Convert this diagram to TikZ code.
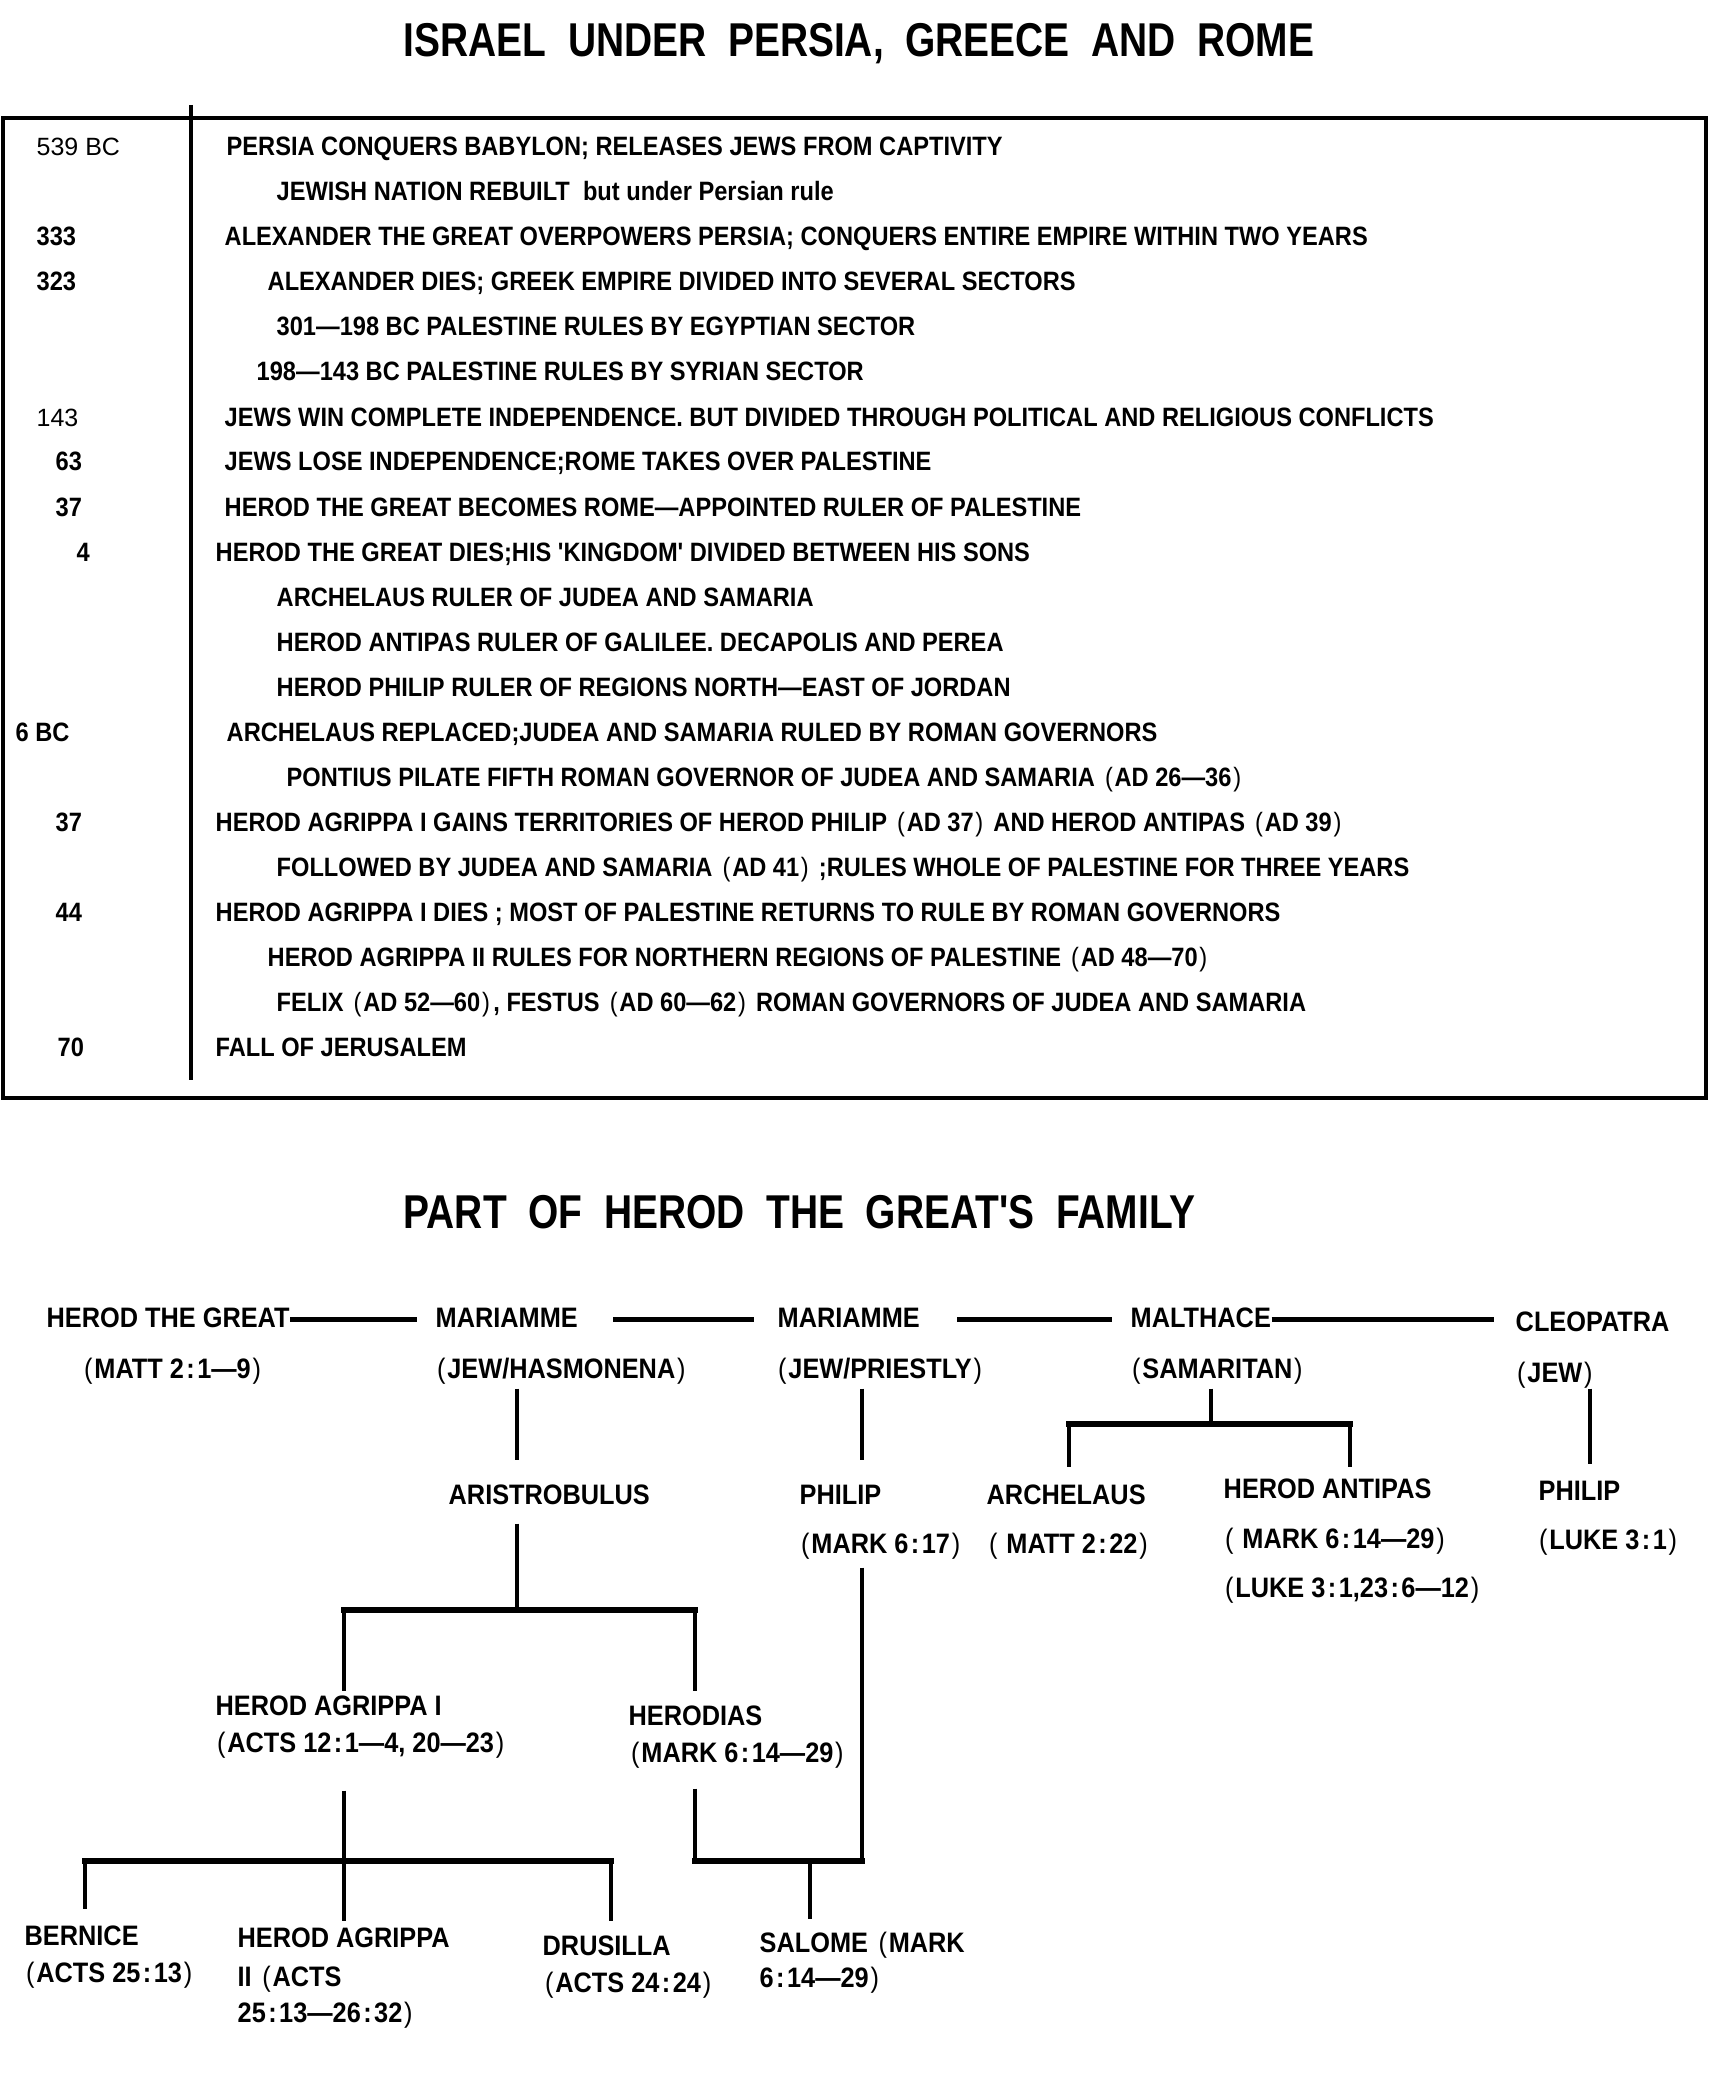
\documentclass[tikz,border=0pt]{standalone}
\usepackage{fontspec}
\usetikzlibrary{calc}
\newfontfamily\narrowfont{Liberation Sans}[FakeStretch=0.89]
\newfontfamily\treefont{Liberation Sans}[FakeStretch=0.90]
\newfontfamily\titlefont{Liberation Sans}[FakeStretch=0.82]
\newfontfamily\datefont{Liberation Sans}
\newcommand{\lp}{\kern1pt{\mdseries(}\kern0.5pt}
\newcommand{\rp}{\kern0.5pt{\mdseries)}\kern1pt}
\newcommand{\cl}{\kern0.7pt:\kern0.7pt}

\begin{document}
\begin{tikzpicture}[x=0.01cm, y=-0.01cm,
	heading/.style={anchor=base west, inner sep=0pt, font=\titlefont\bfseries\fontsize{13.5pt}{16pt}\selectfont},
	event/.style={anchor=base west, inner sep=0pt, font=\narrowfont\bfseries\fontsize{7.55pt}{9pt}\selectfont},
	oldyear/.style={anchor=base west, inner sep=0pt, font=\datefont\fontsize{7.1pt}{9pt}\selectfont},
	person/.style={anchor=base west, inner sep=0pt, text height=2.1mm, text depth=0.6mm, font=\treefont\bfseries\fontsize{8pt}{10pt}\selectfont},
	wed/.style={line width=1.3pt},
	kin/.style={line width=1pt},
	bar/.style={line width=1.5pt, line cap=rect}]
			%%%%% START %%%%%
			\useasboundingbox (0,0) rectangle (1711,2076);
			
			\node[heading] (title) at (403,57) {ISRAEL~ UNDER~ PERSIA,~ GREECE~ AND~ ROME};
			
			\draw[line width=1.1pt] (3,118) rectangle (1706,1098);
			\draw[line width=1.1pt] (191,105) -- (191,1080);
			
			\node[oldyear] (d1) at (36,156) {539 BC};
			\node[event] (d3) at (36,246) {333};
			\node[event] (d4) at (36,291) {323};
			\node[oldyear] (d7) at (36,426) {143};
			\node[event] (d8) at (55,471) {63};
			\node[event] (d9) at (55,516) {37};
			\node[event] (d10) at (76,561) {4};
			\node[event] (d14) at (15,741) {6 BC};
			\node[event] (d16) at (55,831) {37};
			\node[event] (d18) at (55,921) {44};
			\node[event] (d21) at (57,1056) {70};
			
			\node[event] (e1) at (226,156) {PERSIA CONQUERS BABYLON; RELEASES JEWS FROM CAPTIVITY};
			\node[event] (e2) at (276,201) {JEWISH NATION REBUILT~ but under Persian rule};
			\node[event] (e3) at (224,246) {ALEXANDER THE GREAT OVERPOWERS PERSIA; CONQUERS ENTIRE EMPIRE WITHIN TWO YEARS};
			\node[event] (e4) at (267,291) {ALEXANDER DIES; GREEK EMPIRE DIVIDED INTO SEVERAL SECTORS};
			\node[event] (e5) at (276,336) {301—198 BC PALESTINE RULES BY EGYPTIAN SECTOR};
			\node[event] (e6) at (256,381) {198—143 BC PALESTINE RULES BY SYRIAN SECTOR};
			\node[event] (e7) at (224,426) {JEWS WIN COMPLETE INDEPENDENCE. BUT DIVIDED THROUGH POLITICAL AND RELIGIOUS CONFLICTS};
			\node[event] (e8) at (224,471) {JEWS LOSE INDEPENDENCE;ROME TAKES OVER PALESTINE};
			\node[event] (e9) at (224,516) {HEROD THE GREAT BECOMES ROME—APPOINTED RULER OF PALESTINE};
			\node[event] (e10) at (215,561) {HEROD THE GREAT DIES;HIS 'KINGDOM' DIVIDED BETWEEN HIS SONS};
			\node[event] (e11) at (276,606) {ARCHELAUS RULER OF JUDEA AND SAMARIA};
			\node[event] (e12) at (276,651) {HEROD ANTIPAS RULER OF GALILEE. DECAPOLIS AND PEREA};
			\node[event] (e13) at (276,696) {HEROD PHILIP RULER OF REGIONS NORTH—EAST OF JORDAN};
			\node[event] (e14) at (226,741) {ARCHELAUS REPLACED;JUDEA AND SAMARIA RULED BY ROMAN GOVERNORS};
			\node[event] (e15) at (286,786) {PONTIUS PILATE FIFTH ROMAN GOVERNOR OF JUDEA AND SAMARIA \lp AD 26—36\rp};
			\node[event] (e16) at (215,831) {HEROD AGRIPPA I GAINS TERRITORIES OF HEROD PHILIP \lp AD 37\rp\ AND HEROD ANTIPAS \lp AD 39\rp};
			\node[event] (e17) at (276,876) {FOLLOWED BY JUDEA AND SAMARIA \lp AD 41\rp\ ;RULES WHOLE OF PALESTINE FOR THREE YEARS};
			\node[event] (e18) at (215,921) {HEROD AGRIPPA I DIES ; MOST OF PALESTINE RETURNS TO RULE BY ROMAN GOVERNORS};
			\node[event] (e19) at (267,966) {HEROD AGRIPPA II RULES FOR NORTHERN REGIONS OF PALESTINE \lp AD 48—70\rp};
			\node[event] (e20) at (276,1011) {FELIX \lp AD 52—60\rp, FESTUS \lp AD 60—62\rp\ ROMAN GOVERNORS OF JUDEA AND SAMARIA};
			\node[event] (e21) at (215,1056) {FALL OF JERUSALEM};
			
			\node[heading] (familytitle) at (403,1228) {PART~ OF~ HEROD~ THE~ GREAT'S~ FAMILY};
			
			% wives
			\node[person] (hg) at (46,1327) {HEROD THE GREAT};
			\node[person] (hgref) at (80,1378) {\lp MATT 2\cl 1—9\rp};
			\node[person] (m1) at (435,1327) {MARIAMME};
			\node[person] (m1ref) at (433,1378) {\lp JEW/HASMONENA\rp};
			\node[person] (m2) at (777,1327) {MARIAMME};
			\node[person] (m2ref) at (774,1378) {\lp JEW/PRIESTLY\rp};
			\node[person] (mal) at (1130,1327) {MALTHACE};
			\node[person] (malref) at (1128,1378) {\lp SAMARITAN\rp};
			\node[person] (cleo) at (1515,1331) {CLEOPATRA};
			\node[person] (cleoref) at (1513,1382) {\lp JEW\rp};
			
			% sons
			\node[person] (aristo) at (448,1504) {ARISTROBULUS};
			\node[person] (phil) at (799,1504) {PHILIP};
			\node[person] (philref) at (797,1553) {\lp MARK 6\cl 17\rp};
			\node[person] (arch) at (986,1504) {ARCHELAUS};
			\node[person] (archref) at (985,1553) {\lp\ MATT 2\cl 22\rp};
			\node[person] (antipas) at (1223,1498) {HEROD ANTIPAS};
			\node[person] (antref) at (1221,1548) {\lp\ MARK 6\cl 14—29\rp};
			\node[person] (antreftwo) at (1221,1597) {\lp LUKE 3\cl 1,23\cl 6—12\rp};
			\node[person] (philtwo) at (1538,1500) {PHILIP};
			\node[person] (philtworef) at (1535,1549) {\lp LUKE 3\cl 1\rp};
			
			% grandchildren
			\node[person] (agr) at (215,1715) {HEROD AGRIPPA I};
			\node[person] (agrref) at (213,1752) {\lp ACTS 12\cl 1—4, 20—23\rp};
			\node[person] (herodias) at (628,1725) {HERODIAS};
			\node[person] (herodiasref) at (627,1762) {\lp MARK 6\cl 14—29\rp};
			
			\node[person] (bernice) at (24,1945) {BERNICE};
			\node[person] (berniceref) at (22,1982) {\lp ACTS 25\cl 13\rp};
			\node[person] (agrtwo) at (237,1947) {HEROD AGRIPPA};
			\node[person] (agrtwob) at (237,1986) {II \lp ACTS};
			\node[person] (agrtwoc) at (237,2022) {25\cl 13—26\cl 32\rp};
			\node[person] (drus) at (542,1955) {DRUSILLA};
			\node[person] (drusref) at (541,1992) {\lp ACTS 24\cl 24\rp};
			\node[person] (salome) at (759,1952) {SALOME \lp MARK};
			\node[person] (salomeb) at (759,1987) {6\cl 14—29\rp};
			
			% marriages
			\draw[wed, shorten >=1.8mm] (hg.east) -- (m1.west);
			\draw[wed, shorten <=3.5mm, shorten >=2.3mm] (m1.east) -- (m2.west);
			\draw[wed, shorten <=3.7mm, shorten >=1.8mm] (m2.east) -- (mal.west);
			\draw[wed, shorten >=2.1mm] (mal.east) -- (mal.east -| cleo.west);
			
			\coordinate (aristox) at (517,1610);
			\coordinate (malx) at (1211,1424);
			\coordinate (philx) at (862,1861);
			\coordinate (agrx) at (344,1861);
			\coordinate (herx) at (695,0);
			\coordinate (archx) at (1069,0);
			\coordinate (antx) at (1350,0);
			\coordinate (cleox) at (1590,0);
			\coordinate (salx) at (810,0);
			\coordinate (bernx) at (85,0);
			\coordinate (drusx) at (611,0);
			
			% children of the wives
			\draw[kin, shorten <=0.4mm, shorten >=2.2mm] (m1ref.south -| aristox) -- (aristo.north -| aristox);
			\draw[kin, shorten <=0.4mm, shorten >=2.2mm] (m2ref.south -| philx) -- (phil.north -| philx);
			\draw[kin, shorten <=0.4mm] (malref.south -| malx) -- (malx);
			\draw[bar] (archx |- malx) -- (antx |- malx);
			\draw[kin, shorten >=1.5mm] (archx |- malx) -- (archx |- arch.north);
			\draw[kin, shorten >=0.9mm] (antx |- malx) -- (antx |- antipas.north);
			\draw[kin, shorten >=1.4mm] (cleoref.south -| cleox) -- (philtwo.north -| cleox);
			
			% Aristobulus
			\draw[kin, shorten <=1.3mm] (aristo.south -| aristox) -- (aristox);
			\draw[bar] (agrx |- aristox) -- (herx |- aristox);
			\draw[kin, shorten >=0.2mm] (agrx |- aristox) -- (agrx |- agr.north);
			\draw[kin, shorten >=1.2mm] (herx |- aristox) -- (herx |- herodias.north);
			
			% Philip and Herodias
			\draw[kin, shorten <=0.8mm] (philref.south -| philx) -- (philx);
			\draw[kin, shorten <=2mm] (herodiasref.south -| herx) -- (herx |- philx);
			\draw[bar] (herx |- philx) -- (philx);
			\draw[kin, shorten >=1.1mm] (salx |- philx) -- (salx |- salome.north);
			
			% Agrippa I
			\draw[kin, shorten <=3.2mm, shorten >=0.4mm] (agrref.south -| agrx) -- (agrtwo.north -| agrx);
			\draw[bar] (bernx |- agrx) -- (drusx |- agrx);
			\draw[kin, shorten >=1.4mm] (bernx |- agrx) -- (bernx |- bernice.north);
			\draw[kin, shorten >=1.2mm] (drusx |- agrx) -- (drusx |- drus.north);
			
			%%%%% END %%%%%
\end{tikzpicture}
\end{document}
